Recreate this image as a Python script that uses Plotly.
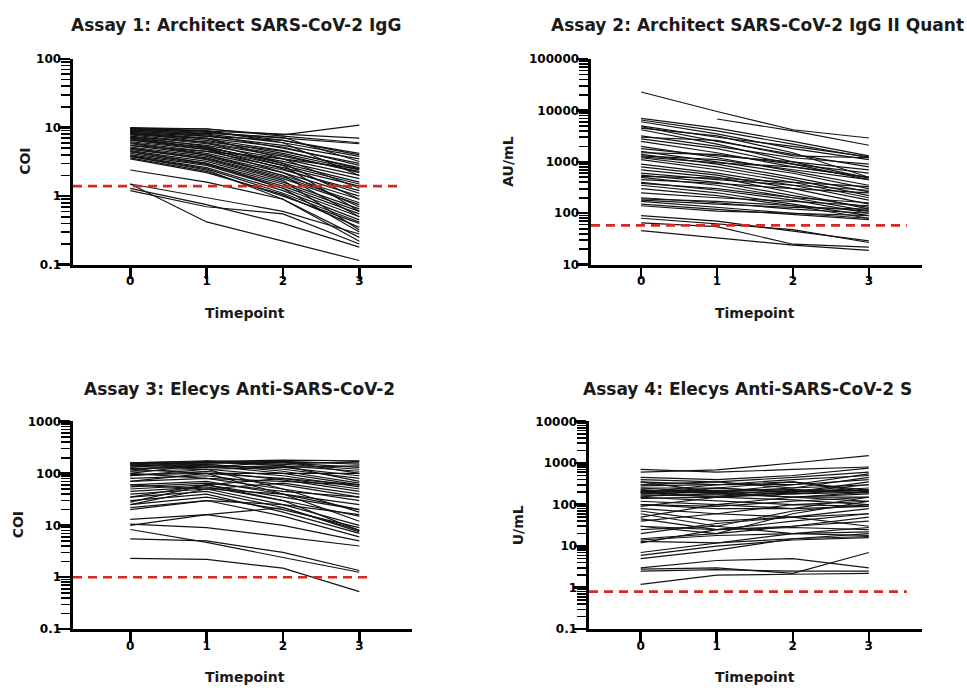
import math
import plotly.graph_objects as go

# ---------------- data ----------------
timepoints = [0, 1, 2, 3]

assay1_title = "Assay 1: Architect SARS-CoV-2 IgG"
assay2_title = "Assay 2: Architect SARS-CoV-2 IgG II Quant"
assay3_title = "Assay 3: Elecys Anti-SARS-CoV-2"
assay4_title = "Assay 4: Elecys Anti-SARS-CoV-2 S"

assay1_values = [
    [9.8, 9.5, 7.8, 10.8], [9.9, 9.0, 8.0, 7.0], [9.5, 8.5, 7.0, 5.8], [9.7, 8.8, 6.5, 4.2],
    [9.2, 8.0, 6.0, 3.8], [9.0, 7.5, 5.5, 3.5], [8.8, 7.8, 5.0, 3.0], [8.5, 7.0, 5.2, 2.8],
    [8.2, 6.8, 4.6, 2.5], [8.0, 6.5, 4.2, 2.4], [7.8, 6.0, 4.0, 2.2], [7.5, 5.8, 3.8, 2.3],
    [7.2, 6.2, 4.5, 2.6], [7.0, 5.5, 3.5, 2.0], [6.8, 5.0, 3.2, 1.8], [6.5, 5.2, 3.0, 1.6],
    [6.2, 4.8, 2.8, 1.5], [6.0, 4.5, 2.6, 1.4], [5.8, 4.2, 2.4, 1.2], [5.5, 4.0, 2.2, 1.0],
    [5.2, 3.8, 2.0, 0.9], [5.0, 3.6, 1.9, 0.8], [4.8, 3.5, 1.8, 0.75], [4.6, 3.2, 1.6, 0.65],
    [4.4, 3.0, 1.5, 0.6], [4.2, 2.9, 1.4, 0.55], [4.0, 2.8, 1.3, 0.5], [3.9, 2.6, 1.2, 0.45],
    [3.8, 2.5, 1.1, 0.42], [3.6, 2.3, 1.0, 0.4], [3.5, 2.2, 1.05, 0.35], [7.0, 5.0, 2.5, 1.1],
    [6.0, 4.0, 2.0, 0.5], [5.0, 3.4, 1.7, 0.32], [4.5, 3.0, 1.3, 0.3], [3.8, 2.4, 0.9, 0.25],
    [2.4, 1.6, 0.9, 0.22], [1.5, 0.42, 0.22, 0.115], [1.3, 0.75, 0.4, 0.18], [1.2, 0.7, 0.55, 0.2],
    [1.5, 0.95, 0.6, 0.28], [8.5, 7.5, 6.5, 4.0], [9.3, 8.2, 7.2, 3.2], [9.6, 9.0, 6.0, 2.0],
    [5.5, 4.5, 3.5, 2.5], [8.0, 7.0, 3.5, 1.3], [6.6, 4.8, 2.2, 0.7], [9.9, 9.6, 7.5, 6.0],
    [8.6, 6.0, 3.0, 0.9], [7.4, 5.3, 2.8, 0.6],
]

assay2_values = [
    [22800, 9500, 4200, 2900], [None, 6800, 4000, 2100], [7000, 4500, 2500, 1300],
    [6500, 4000, 2200, 1200], [6000, 3500, 1800, 1100], [5000, 3000, 2000, 1250],
    [4800, 2500, 1400, 800], [4500, 3200, 1500, 500], [4200, 2200, 1000, 480],
    [3200, 2000, 1200, 900], [2800, 1800, 900, 450], [2500, 1500, 800, 500],
    [2000, 1200, 650, 350], [1800, 1300, 1000, 700], [1600, 1000, 600, 300],
    [1400, 900, 500, 260], [1300, 1100, 700, 450], [1200, 800, 450, 220],
    [1100, 700, 400, 200], [900, 600, 350, 180], [800, 550, 300, 150],
    [700, 500, 250, 120], [600, 450, 350, 280], [550, 400, 220, 130],
    [500, 350, 200, 110], [450, 380, 300, 250], [400, 280, 180, 100],
    [380, 300, 200, 160], [350, 250, 150, 90], [300, 220, 140, 80],
    [250, 200, 170, 140], [200, 160, 120, 100], [180, 150, 130, 120],
    [170, 130, 100, 80], [150, 120, 95, 75], [140, 110, 100, 90],
    [90, 70, 45, 29], [80, 62, 48, 27], [46, 33, 24, 19], [65, 55, 25, 22],
    [3000, 2600, 1300, 1200], [1500, 1400, 900, 600], [1250, 950, 800, 500],
    [520, 480, 400, 330], [190, 170, 140, 110],
]

assay3_values = [
    [160, 170, 180, 175], [155, 165, 170, 150], [150, 160, 150, 120], [145, 130, 170, 100],
    [140, 150, 120, 80], [130, 170, 140, 70], [120, 140, 100, 60], [110, 120, 90, 55],
    [100, 150, 110, 65], [95, 100, 80, 50], [90, 110, 75, 45], [80, 90, 60, 35],
    [70, 80, 50, 30], [60, 70, 40, 25], [55, 65, 45, 35], [50, 60, 35, 20],
    [45, 55, 30, 15], [40, 50, 25, 10], [35, 45, 22, 8], [30, 40, 18, 7],
    [28, 60, 30, 8], [25, 35, 20, 9], [22, 30, 15, 6], [20, 30, 25, 16],
    [140, 120, 50, 18], [120, 100, 40, 12], [100, 80, 70, 60], [60, 50, 65, 40],
    [13, 16, 10, 5], [10, 16, 22, 7.5], [10.5, 9, 6, 4], [8.3, 4.7, 2.4, 1.25],
    [5.5, 5, 3, 1.35], [2.3, 2.2, 1.5, 0.53], [160, 175, 160, 130], [150, 140, 130, 90],
    [110, 170, 150, 170], [70, 100, 100, 100], [35, 60, 80, 60], [25, 50, 40, 20],
    [155, 160, 165, 160], [125, 130, 140, 110], [90, 120, 130, 140],
]

assay4_values = [
    [600, 680, 1000, 1500], [700, 600, 700, 800], [450, 400, 500, 750], [400, 350, 450, 600],
    [350, 300, 400, 500], [300, 350, 250, 450], [280, 300, 300, 400], [250, 250, 200, 350],
    [220, 200, 250, 300], [200, 250, 200, 220], [200, 150, 180, 200], [180, 200, 150, 180],
    [170, 160, 200, 250], [160, 180, 150, 150], [150, 120, 100, 120], [140, 150, 130, 100],
    [120, 100, 150, 200], [100, 90, 120, 150], [90, 150, 200, 300], [80, 60, 100, 90],
    [70, 40, 50, 60], [60, 30, 70, 100], [50, 100, 80, 150], [45, 25, 30, 50],
    [40, 60, 50, 30], [30, 25, 28, 25], [25, 30, 20, 18], [20, 35, 50, 80],
    [15, 20, 30, 40], [14, 18, 20, 22], [13, 12, 15, 17], [12, 25, 40, 60],
    [7, 12, 20, 28], [6, 10, 14, 16], [5, 8, 15, 20], [3, 4.5, 5, 3],
    [2.8, 3, 2.2, 7], [2.5, 2.7, 2.5, 2.5], [1.2, 2.0, 2.1, 2.2], [200, 300, 350, 220],
    [250, 200, 300, 550], [150, 250, 350, 200], [30, 20, 60, 120], [100, 80, 80, 90],
    [350, 200, 150, 120], [210, 220, 230, 210], [190, 210, 180, 230], [230, 180, 220, 190],
]

cutoffs = [1.4, 58, 1.0, 0.8]
cutoff_ends = [3.5, 3.5, 3.17, 3.5]
y_titles = ["COI", "AU/mL", "COI", "U/mL"]
y_limits = [(0.1, 100), (10, 100000), (0.1, 1000), (0.1, 10000)]
x_title = "Timepoint"

# ---------------- layout geometry (pixels) ----------------
W, H = 967, 693
FONT = "DejaVu Sans, sans-serif"
panels = [
    dict(px=(73, 412), py=(53, 263), xr=[-0.75, 3.69], title_x=236, title_y=18, ytitle_x=25),
    dict(px=(591, 922), py=(53, 263), xr=[-0.66, 3.70], title_x=757, title_y=18, ytitle_x=508),
    dict(px=(73, 412), py=(423, 635), xr=[-0.75, 3.69], title_x=239, title_y=390, ytitle_x=18),
    dict(px=(589, 922), py=(423, 635), xr=[-0.68, 3.70], title_x=747, title_y=390, ytitle_x=518),
]
titles = [assay1_title, assay2_title, assay3_title, assay4_title]
all_values = [assay1_values, assay2_values, assay3_values, assay4_values]


def fx(p):
    return p / W


def fy(p):
    return 1 - p / H


fig = go.Figure()
annotations = []
for i, (pan, vals) in enumerate(zip(panels, all_values)):
    n = "" if i == 0 else str(i + 1)
    xa, ya = "x" + n, "y" + n
    for subj in vals:
        fig.add_trace(go.Scatter(
            x=timepoints, y=subj, mode="lines", xaxis=xa, yaxis=ya,
            line=dict(color="#141414", width=1.2), showlegend=False, hoverinfo="skip",
            connectgaps=False,
        ))
    fig.add_trace(go.Scatter(
        x=[pan["xr"][0], cutoff_ends[i]], y=[cutoffs[i], cutoffs[i]], mode="lines",
        xaxis=xa, yaxis=ya, line=dict(color="#d42a22", width=2.6, dash="9px,6px"),
        showlegend=False, hoverinfo="skip",
    ))
    ylo, yhi = y_limits[i]
    yrange = [math.log10(ylo), math.log10(yhi)]
    ydomain = [fy(pan["py"][1]), fy(pan["py"][0])]
    fig.layout["xaxis" + n] = dict(
        domain=[fx(pan["px"][0]), fx(pan["px"][1])], anchor=ya, range=pan["xr"],
        tickvals=timepoints, ticktext=[str(t) for t in timepoints],
        showline=True, linewidth=3, linecolor="black", ticks="outside", ticklen=11,
        tickwidth=2.5, tickcolor="black", showgrid=False, zeroline=False,
        tickfont=dict(family=FONT, size=12, color="black", weight="bold"),
        ticklabelstandoff=-8,
        fixedrange=True,
    )
    fig.layout["yaxis" + n] = dict(
        domain=ydomain, anchor=xa, type="log", range=yrange,
        tickmode="linear", tick0=0, dtick=1, tickformat="~g",
        showline=True, linewidth=3.5, linecolor="black", ticks="outside", ticklen=12,
        tickwidth=2.5, tickcolor="black", showgrid=False, zeroline=False,
        tickfont=dict(family=FONT, size=12, color="black", weight="bold"),
        ticklabelstandoff=-6,
        minor=dict(ticks="outside", dtick="D1", ticklen=8.5, tickwidth=1.6,
                   tickcolor="black", showgrid=False),
        fixedrange=True,
    )
    annotations.append(dict(
        text="<b>" + titles[i] + "</b>", x=fx(pan["title_x"]), y=fy(pan["title_y"]),
        xref="paper", yref="paper", xanchor="center", yanchor="middle", showarrow=False,
        font=dict(family=FONT, size=17, color="#1a1a1a"),
    ))
    u = (pan["px"][1] - pan["px"][0]) / (pan["xr"][1] - pan["xr"][0])
    cx = pan["px"][0] + (1.5 - pan["xr"][0]) * u
    annotations.append(dict(
        text="<b>" + x_title + "</b>", x=fx(cx),
        y=fy(pan["py"][1] + 49), xref="paper", yref="paper", xanchor="center",
        yanchor="middle", showarrow=False, font=dict(family=FONT, size=14, color="#1a1a1a"),
    ))
    annotations.append(dict(
        text="<b>" + y_titles[i] + "</b>", x=fx(pan["ytitle_x"]),
        y=fy((pan["py"][0] + pan["py"][1]) / 2), xref="paper", yref="paper",
        xanchor="center", yanchor="middle", textangle=-90, showarrow=False,
        font=dict(family=FONT, size=14, color="#1a1a1a"),
    ))

fig.update_layout(
    width=W, height=H, autosize=False,
    margin=dict(l=0, r=0, t=0, b=0),
    paper_bgcolor="white", plot_bgcolor="white",
    annotations=annotations,
    font=dict(family=FONT, color="black"),
)

fig.write_html(
    "out.html",
    config={"displayModeBar": False, "staticPlot": True},
    post_script="document.body.style.margin='0';document.body.style.padding='0';",
)
